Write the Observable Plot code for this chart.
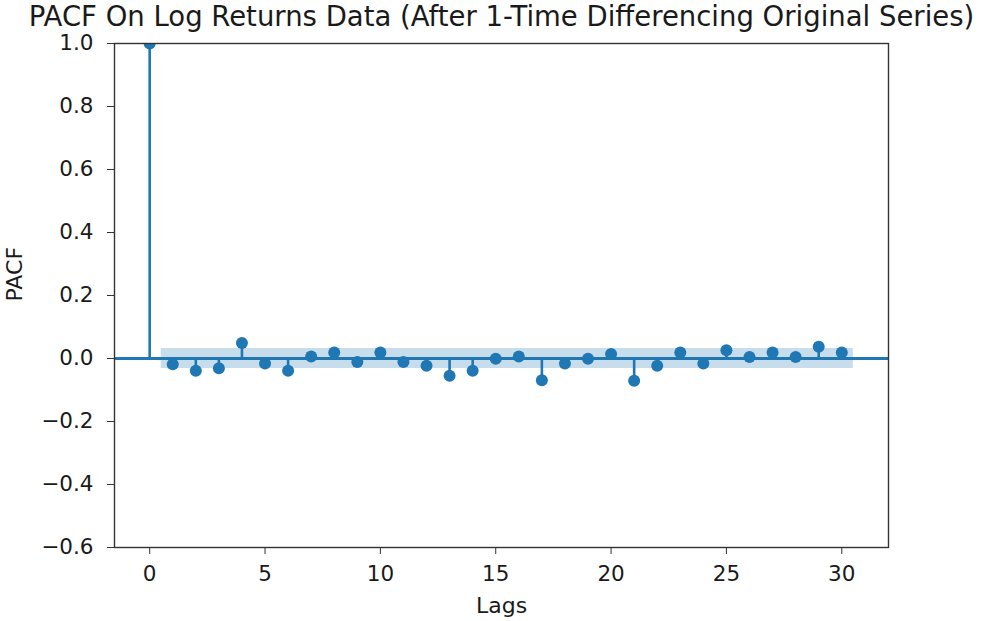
<!DOCTYPE html>
<html>
<head>
<meta charset="utf-8">
<script src="https://cdn.jsdelivr.net/npm/d3@7"></script>
<script src="https://cdn.jsdelivr.net/npm/@observablehq/plot@0.6"></script>
<style>
  body { margin: 0; background: #fff; }
  #chart svg { display: block; }
</style>
</head>
<body>
<div id="chart"></div>
<script>
// Partial autocorrelation of the differenced log-return series, lags 0–30
const lags = [0, 1, 2, 3, 4, 5, 6, 7, 8, 9, 10, 11, 12, 13, 14, 15,
              16, 17, 18, 19, 20, 21, 22, 23, 24, 25, 26, 27, 28, 29, 30];
const pacf = [1.0, -0.018, -0.039, -0.031, 0.049, -0.016, -0.039, 0.006, 0.019, -0.011, 0.019,
              -0.011, -0.023, -0.055, -0.039, -0.001, 0.006, -0.069, -0.016, -0.001, 0.014,
              -0.071, -0.023, 0.019, -0.016, 0.026, 0.005, 0.019, 0.005, 0.037, 0.019];

// 95% confidence band around zero
const confLimit = 0.032;
const bandLags = [0.5, 30.5];

const xTicks = [0, 5, 10, 15, 20, 25, 30];
const yTicks = [-0.6, -0.4, -0.2, 0.0, 0.2, 0.4, 0.6, 0.8, 1.0];

const titleText = "PACF On Log Returns Data (After 1-Time Differencing Original Series)";
const xLabel = "Lags";
const yLabel = "PACF";

const points = lags.map((lag, i) => ({lag, value: pacf[i]}));
const band = bandLags.map(lag => ({lag, lo: -confLimit, hi: confLimit}));

const blue = "#1f77b4";
const ink = "#1a1a1a";
const fmt = d => d.toFixed(1).replace("-", "\u2212");

const chart = Plot.plot({
  width: 981,
  height: 621,
  marginLeft: 114,
  marginRight: 93,
  marginTop: 43,
  marginBottom: 74,
  style: {fontFamily: "DejaVu Sans", fontSize: "21.5px", color: ink, background: "#fff"},
  x: {domain: [-1.525, 32.025]},
  y: {domain: [-0.6, 1.0]},
  marks: [
    Plot.ruleY([0], {stroke: blue, strokeWidth: 3}),
    Plot.ruleX(points, {x: "lag", y1: 0, y2: "value", stroke: blue, strokeWidth: 2.6}),
    Plot.dot(points, {x: "lag", y: "value", r: 6, fill: blue, stroke: "none", clip: true}),
    Plot.areaY(band, {x: "lag", y1: "lo", y2: "hi", fill: blue, fillOpacity: 0.25}),
    Plot.frame({stroke: "#333", strokeWidth: 1.4}),
    Plot.axisX({ticks: xTicks, tickSize: 7, tickPadding: 11, tickFormat: d => String(d), label: null, stroke: "#333"}),
    Plot.axisY({ticks: yTicks, tickSize: 7, tickPadding: 14, tickFormat: fmt, label: null, stroke: "#333"}),
    Plot.text([xLabel], {frameAnchor: "bottom", dy: 58, lineAnchor: "middle", fontSize: 22, fill: ink}),
    Plot.text([yLabel], {frameAnchor: "left", dx: -100, dy: 6, rotate: -90, lineAnchor: "middle", fontSize: 22, fill: ink}),
    Plot.text([titleText], {frameAnchor: "top", dy: -18, lineAnchor: "bottom", fontSize: 27.5, fill: ink})
  ]
});

document.getElementById("chart").append(chart);
</script>
</body>
</html>
